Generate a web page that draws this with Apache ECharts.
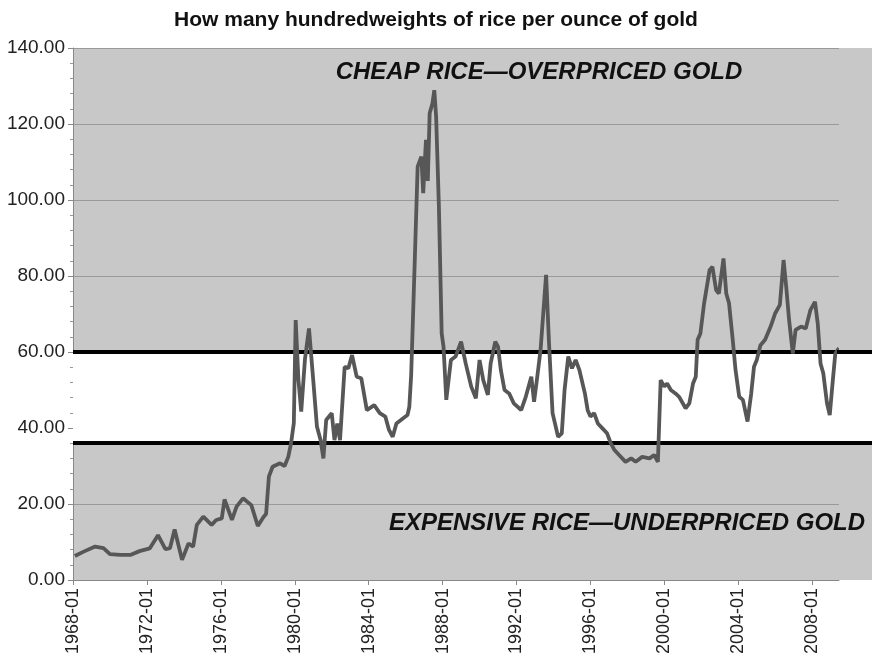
<!DOCTYPE html>
<html>
<head>
<meta charset="utf-8">
<script src="https://cdn.jsdelivr.net/npm/echarts@6/dist/echarts.min.js"></script>
<style>
html,body{margin:0;padding:0;background:#fff;}
#chart{width:872px;height:663px;}
</style>
</head>
<body>
<div id="chart"></div>
<script>
// Decimal years (x positions) and gold/rice ratio values
var years = [
  1968.1,1968.55,1969.2,1969.65,1970.0,1970.55,1971.1,1971.6,1972.15,1972.6,
  1973.0,1973.25,1973.5,1973.9,1974.25,1974.5,1974.7,1975.05,1975.5,1975.75,
  1976.05,1976.2,1976.6,1976.85,1977.2,1977.65,1978.0,1978.3,1978.45,1978.6,
  1978.8,1979.2,1979.45,1979.65,1979.8,1979.95,1980.05,1980.2,1980.35,1980.55,
  1980.77,1981.0,1981.2,1981.4,1981.55,1981.7,1982.0,1982.15,1982.3,1982.45,
  1982.7,1982.9,1983.1,1983.35,1983.6,1983.9,1984.3,1984.6,1984.9,1985.1,
  1985.3,1985.5,1985.85,1986.1,1986.2,1986.3,1986.5,1986.65,1986.85,1986.95,
  1987.1,1987.2,1987.3,1987.45,1987.55,1987.65,1987.8,1987.95,1988.05,1988.2,
  1988.45,1988.7,1989.0,1989.25,1989.55,1989.8,1990.0,1990.2,1990.45,1990.6,
  1990.85,1991.0,1991.15,1991.35,1991.6,1991.85,1992.05,1992.25,1992.5,1992.8,
  1992.95,1993.1,1993.3,1993.6,1993.75,1993.95,1994.25,1994.45,1994.6,1994.8,
  1995.0,1995.2,1995.4,1995.7,1995.85,1996.0,1996.2,1996.4,1996.65,1996.9,
  1997.1,1997.3,1997.55,1997.9,1998.2,1998.45,1998.8,1999.2,1999.45,1999.65,
  1999.8,2000.0,2000.15,2000.35,2000.6,2000.8,2001.15,2001.35,2001.55,2001.7,
  2001.8,2001.95,2002.15,2002.45,2002.6,2002.8,2002.95,2003.2,2003.35,2003.5,
  2003.7,2003.85,2004.05,2004.25,2004.5,2004.7,2004.85,2005.0,2005.2,2005.45,
  2005.75,2006.0,2006.25,2006.45,2006.6,2006.75,2006.95,2007.1,2007.4,2007.65,
  2007.9,2008.15,2008.3,2008.45,2008.6,2008.8,2008.95,2009.1,2009.25,2009.45
];
var ratio = [
  6.3,7.4,8.8,8.4,6.8,6.6,6.6,7.6,8.3,11.8,
  8.1,8.4,13.3,5.3,9.6,8.8,14.5,16.7,14.5,15.8,
  16.2,21.2,15.8,19.3,21.5,19.7,14.2,16.5,17.4,27.2,
  29.8,30.7,30.0,32.4,36.0,41.3,68.4,52.6,44.3,58.0,
  66.2,52.6,40.4,36.8,32.0,42.1,43.9,36.8,41.2,36.8,
  56.1,55.7,59.2,53.5,53.1,44.7,46.0,43.9,43.0,39.5,
  37.7,41.2,42.5,43.4,45.6,54.0,85.0,108.8,111.4,101.8,
  115.8,105.0,122.8,125.4,128.9,121.9,98.2,64.9,61.4,47.4,
  57.9,58.8,62.7,57.0,50.9,47.8,57.9,52.6,48.7,57.0,
  62.7,61.4,55.3,50.0,49.1,46.5,45.6,44.7,48.2,53.5,
  46.9,52.6,60.5,80.3,63.2,43.9,37.7,38.6,50.0,58.8,
  55.7,57.9,55.3,49.1,44.7,43.0,43.9,41.2,39.9,38.6,
  36.0,34.2,32.9,31.1,32.0,31.1,32.4,32.0,32.9,31.1,
  52.6,50.9,51.7,50.0,49.1,48.2,45.2,46.5,51.7,53.5,
  63.2,64.9,72.8,81.6,82.4,76.3,75.4,84.6,75.4,72.8,
  63.2,55.3,48.2,47.4,41.7,49.1,56.1,57.9,61.8,63.2,
  66.7,70.2,72.4,84.2,76.8,68.4,59.6,65.8,66.7,66.2,
  71.0,73.2,67.5,57.0,54.4,46.5,43.4,51.7,59.6,61.0
];
var yTicks = [0,20,40,60,80,100,120,140];
var upperLevel = 60;
var lowerLevel = 36;
var titleText = 'How many hundredweights of rice per ounce of gold';
var topNote = 'CHEAP RICE\u2014OVERPRICED GOLD';
var bottomNote = 'EXPENSIVE RICE\u2014UNDERPRICED GOLD';

var seriesData = years.map(function(y, i){ return [y, ratio[i]]; });

var chart = echarts.init(document.getElementById('chart'), null, {renderer:'canvas'});
var FONT = 'Liberation Sans, Arial, sans-serif';
var GRAY = '#c8c8c8';

var option = {
  animation:false,
  backgroundColor:'#ffffff',
  title:{
    text:titleText, left:'center', top:5,
    textStyle:{fontFamily:FONT, fontWeight:'bold', fontSize:21, color:'#111'}
  },
  grid:{left:73, right:33, top:48, bottom:83, show:true, backgroundColor:GRAY, borderWidth:0},
  xAxis:{
    type:'value', min:1968, max:2009.45, interval:4,
    axisLine:{lineStyle:{color:'#888', width:1}},
    axisTick:{show:true, length:5, lineStyle:{color:'#888'}},
    splitLine:{show:false},
    axisLabel:{
      rotate:90, margin:8, fontFamily:FONT, fontSize:18, color:'#222',
      showMaxLabel:false,
      formatter:function(v){ return (Math.abs(v-Math.round(v))<1e-6 && (Math.round(v)-1968)%4===0) ? (Math.round(v)+'-01') : ''; }
    }
  },
  yAxis:{
    type:'value', min:yTicks[0], max:yTicks[yTicks.length-1], interval:20,
    axisLine:{show:true, lineStyle:{color:'#888', width:1}},
    axisTick:{show:true, length:5, lineStyle:{color:'#888'}},
    minorTick:{show:true, splitNumber:5, length:3, lineStyle:{color:'#999'}},
    splitLine:{show:true, lineStyle:{color:'#9a9a9a', width:1}},
    axisLabel:{fontFamily:FONT, fontSize:19, color:'#222', margin:8,
      formatter:function(v){ return v.toFixed(2); }}
  },
  series:[{
    type:'line', data:seriesData, showSymbol:false, symbol:'none',
    lineStyle:{color:'#575757', width:3.8},
    z:5,
    markArea:{
      silent:true,
      itemStyle:{color:'#ffffff'},
      data:[[{yAxis:lowerLevel},{yAxis:upperLevel}]],
      z:1
    },
    markLine:{
      silent:true, symbol:'none', label:{show:false},
      lineStyle:{color:'#000', width:4, type:'solid'},
      data:[{yAxis:upperLevel},{yAxis:lowerLevel}]
    }
  }]
};
chart.setOption(option);

// extend bands/lines to the right edge of the picture, beyond the plot frame
var pRight = chart.convertToPixel({gridIndex:0}, [2009.45, 0]);
var pTop = chart.convertToPixel({gridIndex:0}, [2009.45, 140]);
var pUp = chart.convertToPixel({gridIndex:0}, [2009.45, upperLevel]);
var pLow = chart.convertToPixel({gridIndex:0}, [2009.45, lowerLevel]);
var xr = Math.round(pRight[0]), W = 872;
var yUp = Math.round(pUp[1]), yLow = Math.round(pLow[1]);
chart.setOption({
  graphic:[
    {type:'rect', z:100, shape:{x:xr, y:pTop[1], width:W-xr, height:yUp-2-pTop[1]}, style:{fill:GRAY}},
    {type:'rect', z:100, shape:{x:xr, y:yLow+2, width:W-xr, height:pRight[1]-yLow-2}, style:{fill:GRAY}},
    {type:'rect', z:101, shape:{x:xr-2, y:yUp-2, width:W-xr+2, height:4}, style:{fill:'#000'}},
    {type:'rect', z:101, shape:{x:xr-2, y:yLow-2, width:W-xr+2, height:4}, style:{fill:'#000'}},
    {type:'text', z:102, style:{text:topNote, x:539, y:72, textAlign:'center', textVerticalAlign:'middle',
        font:'italic bold 24px "Liberation Sans", Arial, sans-serif', fill:'#111'}},
    {type:'text', z:102, style:{text:bottomNote, x:627, y:523, textAlign:'center', textVerticalAlign:'middle',
        font:'italic bold 24px "Liberation Sans", Arial, sans-serif', fill:'#111'}}
  ]
});
</script>
</body>
</html>
